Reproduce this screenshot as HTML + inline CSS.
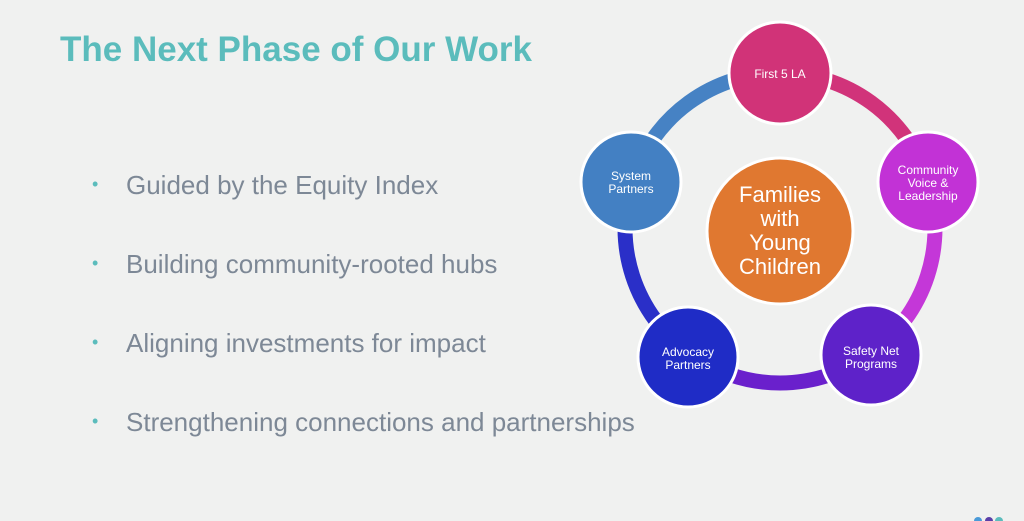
<!DOCTYPE html>
<html><head><style>
body{margin:0;width:1024px;height:521px;background:#f0f1f0;overflow:hidden;font-family:"Liberation Sans",sans-serif;position:relative}
h1{position:absolute;left:60px;top:30px;margin:0;font-size:35px;color:#5bbcbc;font-weight:bold}
.b{position:absolute;left:92px;font-size:26px;color:#7d8896}
.b span{position:absolute;left:34px;white-space:nowrap}
.b:before{content:"•";color:#5bbcbc;font-size:18px;position:absolute;left:0;top:4px}
</style></head><body>
<h1>The Next Phase of Our Work</h1>
<div class="b" style="top:170px"><span>Guided by the Equity Index</span></div>
<div class="b" style="top:249px"><span>Building community-rooted hubs</span></div>
<div class="b" style="top:328px"><span>Aligning investments for impact</span></div>
<div class="b" style="top:407px"><span>Strengthening connections and partnerships</span></div>
<svg width="1024" height="521" style="position:absolute;left:0;top:0" font-family="Liberation Sans, sans-serif">
<g fill="none" stroke-width="15">
<path d="M780 73 A155 155 0 0 1 927.4 180.1" stroke="#d1337a"/>
<path d="M927.4 180.1 A155 155 0 0 1 871.1 353.4" stroke="#c437d8"/>
<path d="M871.1 353.4 A155 155 0 0 1 688.9 353.4" stroke="#6a20cc"/>
<path d="M688.9 353.4 A155 155 0 0 1 632.6 180.1" stroke="#2a2fc8"/>
<path d="M632.6 180.1 A155 155 0 0 1 780 73" stroke="#4682c4"/>
</g>
<g stroke="#fff" stroke-width="3">
<circle cx="780" cy="231" r="73" fill="#e07830"/>
<circle cx="780" cy="73" r="51" fill="#d13378"/>
<circle cx="928" cy="182" r="50" fill="#c232d6"/>
<circle cx="871" cy="355" r="50" fill="#5e22c9"/>
<circle cx="688" cy="357" r="50" fill="#1f2cc6"/>
<circle cx="631" cy="182" r="50" fill="#4380c3"/>
</g>
<g fill="#fff" text-anchor="middle" font-size="12">
<text x="780" y="78">First 5 LA</text>
<text x="928" y="174">Community</text><text x="928" y="187">Voice &amp;</text><text x="928" y="200">Leadership</text>
<text x="871" y="355">Safety Net</text><text x="871" y="368">Programs</text>
<text x="688" y="356">Advocacy</text><text x="688" y="369">Partners</text>
<text x="631" y="180">System</text><text x="631" y="193">Partners</text>
<g font-size="22"><text x="780" y="202">Families</text><text x="780" y="226">with</text><text x="780" y="250">Young</text><text x="780" y="274">Children</text></g>
</g>
<circle cx="978" cy="521" r="4" fill="#4a9ad8"/><circle cx="989" cy="521" r="4" fill="#5a3fa8"/><circle cx="999" cy="521" r="4" fill="#5bbcbc"/>
</svg>
</body></html>
